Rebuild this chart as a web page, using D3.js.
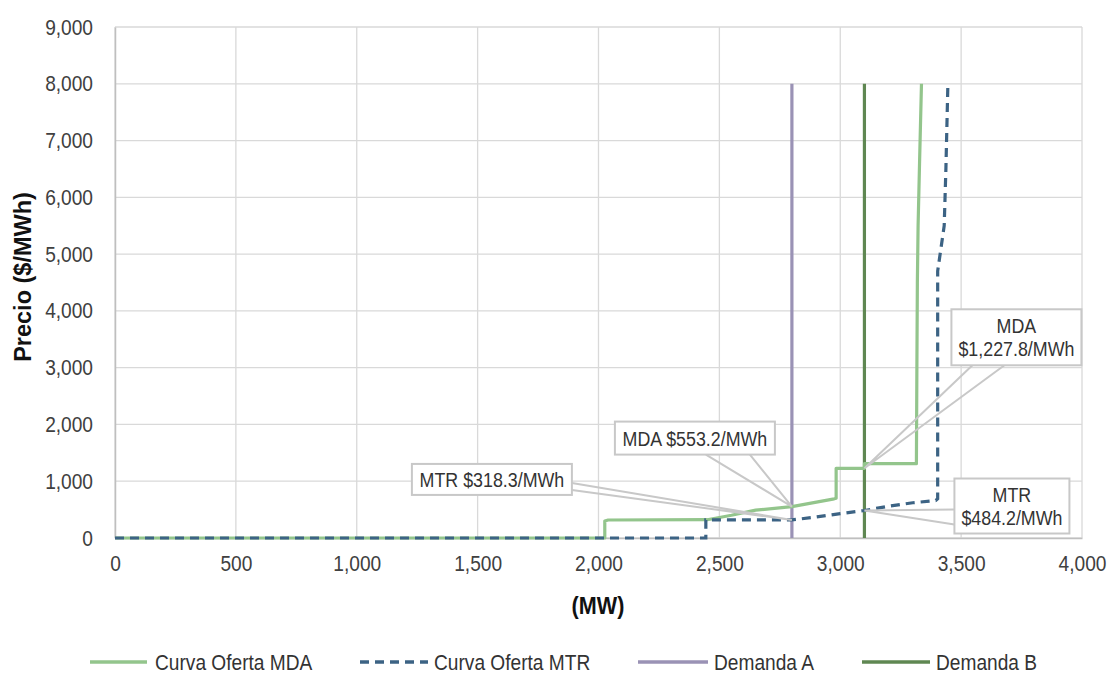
<!DOCTYPE html>
<html><head><meta charset="utf-8">
<script src="https://cdn.jsdelivr.net/npm/d3@7"></script>
<style>
body{margin:0;background:#fff;}
svg{display:block;}
text{font-family:"Liberation Sans",Arial,sans-serif;fill:#404040;}
</style></head>
<body>
<svg id="c" width="1109" height="675"></svg>
<script>
// ---- data ----
const xTicks = [0,500,1000,1500,2000,2500,3000,3500,4000];
const yTicks = [0,1000,2000,3000,4000,5000,6000,7000,8000,9000];
const seriesNames = ["Curva Oferta MDA","Curva Oferta MTR","Demanda A","Demanda B"];
const mdaMW    = [0,2026,2026,2040,2450,2550,2650,2800,2975,2983,2983,3100,3100,3315,3317,3319,3322,3328,3336];
const mdaPrice = [0,0,300,317,322,400,490,553.2,690,700,1227.8,1227.8,1310,1310,3000,4500,5500,6600,8000];
const mtrMW    = [0,2444,2444,2800,2900,3000,3100,3200,3300,3395,3403,3403,3430,3437,3445];
const mtrPrice = [0,0,318.3,318.3,370,430,484.2,560,621,660,690,4700,5500,6500,7950];
const demandaA = [2800,0,8000];   // MW, price from, price to
const demandaB = [3100,0,8000];
const calloutLabels = [["MDA $553.2/MWh"],["MTR $318.3/MWh"],["MDA","$1,227.8/MWh"],["MTR","$484.2/MWh"]];
const calloutMW    = [2800,2800,3100,3100];
const calloutPrice = [553.2,318.3,1227.8,484.2];

// ---- layout ----
const svg = d3.select("#c");
const x = d3.scaleLinear().domain([0,4000]).range([115,1082]);
const y = d3.scaleLinear().domain([0,9000]).range([538,27]);
const grid = "#d9d9d9";
const colors = ["#93c58c","#3c6384","#9a92b5","#5f8752"];
const NS = 0.87; // narrow factor

function narrow(sel, s){
  sel.each(function(){
    const t = d3.select(this);
    const xv = +(t.attr("x")||0);
    t.attr("x", xv/s).attr("transform", `scale(${s},1)`);
  });
}
function ntext(parent, X, Y, s, txt){
  return parent.append("text").attr("transform",`translate(${X},${Y}) scale(${s},1)`).text(txt);
}

// gridlines
svg.append("g").selectAll("line").data(xTicks).join("line")
  .attr("x1",d=>x(d)).attr("x2",d=>x(d)).attr("y1",y(0)).attr("y2",y(9000))
  .attr("stroke",grid).attr("stroke-width",1.3);
svg.append("g").selectAll("line").data(yTicks).join("line")
  .attr("x1",x(0)).attr("x2",x(4000)).attr("y1",d=>y(d)).attr("y2",d=>y(d))
  .attr("stroke",grid).attr("stroke-width",1.3);

// axes
const xAxis = d3.axisBottom(x).tickValues(xTicks).tickFormat(d3.format(",")).tickSize(0).tickPadding(17);
const gx = svg.append("g").attr("transform",`translate(0,${y(0)})`).call(xAxis);
gx.select(".domain").attr("stroke","#bfbfbf").attr("stroke-width",1.5);
gx.selectAll("text").style("font-size","22px").style("font-family","Liberation Sans").style("fill","#404040").call(narrow,NS);
const yAxis = d3.axisLeft(y).tickValues(yTicks).tickFormat(d3.format(",")).tickSize(0).tickPadding(22);
const gy = svg.append("g").attr("transform",`translate(${x(0)},0)`).call(yAxis);
gy.select(".domain").attr("stroke","#bfbfbf").attr("stroke-width",1.5);
gy.selectAll("text").style("font-size","22px").style("font-family","Liberation Sans").style("fill","#404040").call(narrow,NS);

// axis titles
ntext(svg, 598, 614, 0.9, "(MW)").attr("text-anchor","middle")
  .style("font-size","24px").style("font-weight","bold").style("fill","#111");
svg.append("text").attr("transform","translate(31,277) rotate(-90)").attr("text-anchor","middle")
  .style("font-size","23.5px").style("font-weight","bold").style("fill","#111").text("Precio ($/MWh)");

// curves
const line = d3.line().x(d=>x(d[0])).y(d=>y(d[1]));
const mda = mdaMW.map((m,i)=>[m,mdaPrice[i]]);
const mtr = mtrMW.map((m,i)=>[m,mtrPrice[i]]);

[demandaA,demandaB].forEach((d,i)=>{
  svg.append("line").attr("x1",x(d[0])).attr("x2",x(d[0])).attr("y1",y(d[1])).attr("y2",y(d[2]))
    .attr("stroke",colors[2+i]).attr("stroke-width",3.2);
});
svg.append("path").datum(mda).attr("d",line).attr("fill","none")
  .attr("stroke",colors[0]).attr("stroke-width",3.2).attr("stroke-linejoin","round");
svg.append("path").datum(mtr).attr("d",line).attr("fill","none")
  .attr("stroke",colors[1]).attr("stroke-width",3.2).attr("stroke-dasharray","9,6");

// callouts: box offsets relative to target point; wedge base relative to box (layout only)
const boxes = [
  {dx:-177, dy:-85, w:160, h:33, base:[[91,33],[135,33]]},
  {dx:-380, dy:-56, w:160, h:31, base:[[160,19],[160,26]]},
  {dx:87, dy:-159, w:130, h:56, base:[[21,56],[53,56]]},
  {dx:90, dy:-32, w:115, h:55, base:[[0,31],[0,46]]}
];
calloutLabels.forEach((lab,i)=>{
  const px = x(calloutMW[i]), py = y(calloutPrice[i]);
  const b = boxes[i];
  const bx = px + b.dx, by = py + b.dy;
  const g = svg.append("g");
  g.append("path").attr("d",`M${bx+b.base[0][0]},${by+b.base[0][1]} L${px},${py} L${bx+b.base[1][0]},${by+b.base[1][1]}`)
    .attr("fill","none").attr("stroke","#c8c8c8").attr("stroke-width",2);
  g.append("rect").attr("x",bx).attr("y",by).attr("width",b.w).attr("height",b.h)
    .attr("fill","#fff").attr("stroke","#c8c8c8").attr("stroke-width",2);
  const n = lab.length;
  lab.forEach((t,j)=>{
    ntext(g, bx+b.w/2, by+b.h/2+(j-(n-1)/2)*23, 0.85, t)
      .attr("dy","0.36em").attr("text-anchor","middle").style("font-size","21px").style("fill","#333");
  });
});

// legend
const legX = [90,360,638,862];
const legLen = [57,68,70,68];
const legG = svg.append("g");
seriesNames.forEach((s,i)=>{
  legG.append("line").attr("x1",legX[i]).attr("x2",legX[i]+legLen[i]).attr("y1",662).attr("y2",662)
    .attr("stroke",colors[i]).attr("stroke-width",3.5).attr("stroke-dasharray",i===1?"9,6":null);
  ntext(legG, legX[i]+legLen[i]+(i===0?8:6), 662, NS, s).attr("dy","0.36em")
    .style("font-size","22px").style("fill","#333");
});
</script>
</body></html>
